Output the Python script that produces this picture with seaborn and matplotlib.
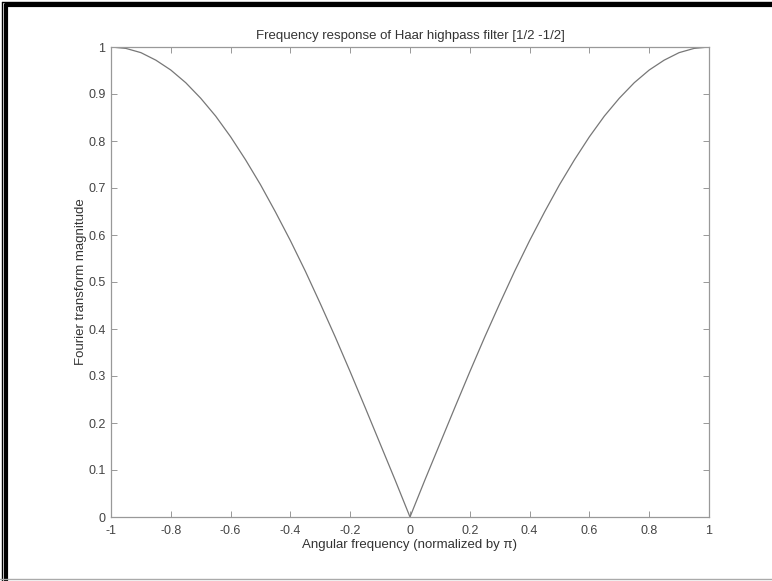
import matplotlib
matplotlib.use("Agg")
import matplotlib.pyplot as plt
import seaborn as sns
import pandas as pd
from matplotlib.lines import Line2D

# Data (magnitude vs normalized angular frequency)
freq = [-1.00, -0.95, -0.90, -0.85, -0.80, -0.75, -0.70, -0.65, -0.60, -0.55,
        -0.50, -0.45, -0.40, -0.35, -0.30, -0.25, -0.20, -0.15, -0.10, -0.05,
        0.00, 0.05, 0.10, 0.15, 0.20, 0.25, 0.30, 0.35, 0.40, 0.45,
        0.50, 0.55, 0.60, 0.65, 0.70, 0.75, 0.80, 0.85, 0.90, 0.95, 1.00]
magnitude = [1.000, 0.997, 0.988, 0.972, 0.951, 0.924, 0.891, 0.853, 0.809, 0.760,
             0.707, 0.649, 0.588, 0.523, 0.454, 0.383, 0.309, 0.233, 0.156, 0.079,
             0.000, 0.079, 0.156, 0.233, 0.309, 0.383, 0.454, 0.523, 0.588, 0.649,
             0.707, 0.760, 0.809, 0.853, 0.891, 0.924, 0.951, 0.972, 0.988, 0.997, 1.000]
xticks = [-1, -0.8, -0.6, -0.4, -0.2, 0, 0.2, 0.4, 0.6, 0.8, 1]
xticklabels = ["-1", "-0.8", "-0.6", "-0.4", "-0.2", "0", "0.2", "0.4", "0.6", "0.8", "1"]
yticks = [0, 0.1, 0.2, 0.3, 0.4, 0.5, 0.6, 0.7, 0.8, 0.9, 1]
yticklabels = ["0", "0.1", "0.2", "0.3", "0.4", "0.5", "0.6", "0.7", "0.8", "0.9", "1"]

sns.set_theme(style="white")
plt.rcParams['font.family'] = ['Liberation Sans', 'DejaVu Sans']

df = pd.DataFrame({"freq": freq, "mag": magnitude})

fig = plt.figure(figsize=(7.72, 5.81), dpi=100)
ax = fig.add_axes([111/772, 64/581, (709-111)/772, (517-47)/581])
sns.lineplot(data=df, x="freq", y="mag", ax=ax, color="#777777", linewidth=0.9)

ax.set_xlim(-1, 1)
ax.set_ylim(0, 1)
ax.set_xticks(xticks)
ax.set_xticklabels(xticklabels)
ax.set_yticks(yticks)
ax.set_yticklabels(yticklabels)
ax.tick_params(direction="in", length=4, width=0.6, colors="#888888",
               labelcolor="#444444", labelsize=9, top=True, right=True,
               bottom=True, left=True, pad=4)
ax.tick_params(axis="x", pad=5.5)
for s in ax.spines.values():
    s.set_color("#999999")
    s.set_linewidth(0.9)

ax.set_title("Frequency response of Haar highpass filter [1/2 -1/2]",
             fontsize=9.5, color="#333333", pad=6)
ax.set_xlabel("Angular frequency (normalized by \u03c0)", fontsize=9.5,
              color="#333333", labelpad=2)
ax.set_ylabel("Fourier transform magnitude", fontsize=9.5, color="#333333",
              labelpad=1)

W, H = 772, 581
def fx(px):
    return px / W
def fy(py):
    return 1 - py / H

# outer thin frame lines
fig.add_artist(Line2D([fx(1.5), fx(772)], [fy(1.5), fy(1.5)], color="black", lw=1.0))
fig.add_artist(Line2D([fx(1.5), fx(1.5)], [fy(1.5), fy(581)], color="black", lw=1.0))
# thick inner frame lines
fig.add_artist(Line2D([fx(5.5), fx(772)], [fy(5), fy(5)], color="black", lw=3.0))
fig.add_artist(Line2D([fx(6), fx(6)], [fy(5), fy(581)], color="black", lw=3.0))
# bottom light line
fig.add_artist(Line2D([fx(0), fx(772)], [fy(579), fy(579)], color="#aaaaaa", lw=1.0))

fig.savefig("out.png", dpi=100)
